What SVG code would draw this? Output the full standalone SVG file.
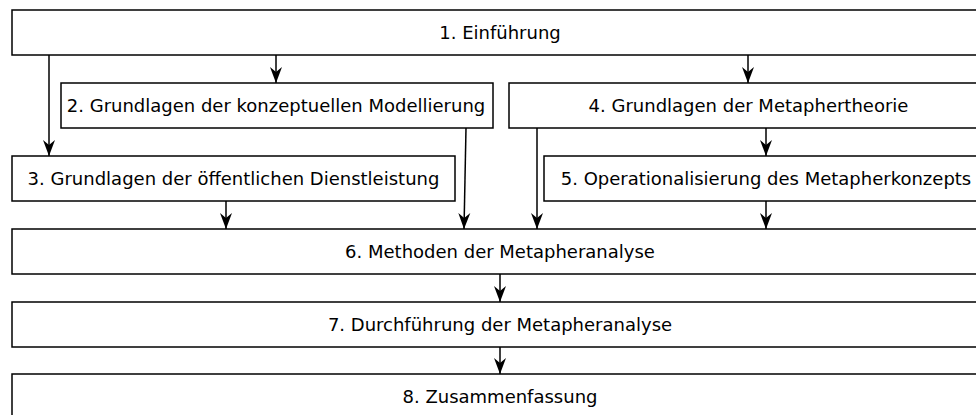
<svg xmlns="http://www.w3.org/2000/svg" width="976" height="415" viewBox="0 0 976 415">
<style>
.box{fill:#fff;stroke:#000;stroke-width:1.5}
.lbl{font-family:"DejaVu Sans",sans-serif;font-size:18px;fill:#000;text-anchor:middle}
.edge{stroke:#000;stroke-width:1.5;fill:none;marker-end:url(#ah)}
</style>
<defs>
<marker id="ah" markerUnits="userSpaceOnUse" markerWidth="18" markerHeight="14" viewBox="-17 -7 18 14" refX="0" refY="0" orient="auto">
<path d="M0,0 L-16,-6 L-11,0 L-16,6 Z" fill="#000"/>
</marker>
</defs>
<rect width="976" height="415" fill="#fff"/>
<g id="n1"><rect class="box" x="12" y="10" width="976" height="45"/><text class="lbl" x="500" y="39">1. Einführung</text></g>
<g id="n2"><rect class="box" x="61" y="83" width="432" height="45"/><text class="lbl" x="276" y="112">2. Grundlagen der konzeptuellen Modellierung</text></g>
<g id="n3"><rect class="box" x="12" y="156" width="443" height="45"/><text class="lbl" x="233.5" y="185">3. Grundlagen der öffentlichen Dienstleistung</text></g>
<g id="n4"><rect class="box" x="509" y="83" width="479" height="45"/><text class="lbl" x="748.5" y="112">4. Grundlagen der Metaphertheorie</text></g>
<g id="n5"><rect class="box" x="544" y="156" width="444" height="45"/><text class="lbl" x="766" y="185">5. Operationalisierung des Metapherkonzepts</text></g>
<g id="n6"><rect class="box" x="12" y="229" width="976" height="45"/><text class="lbl" x="500" y="258">6. Methoden der Metapheranalyse</text></g>
<g id="n7"><rect class="box" x="12" y="302" width="976" height="45"/><text class="lbl" x="500" y="331">7. Durchführung der Metapheranalyse</text></g>
<g id="n8"><rect class="box" x="12" y="374" width="976" height="45"/><text class="lbl" x="500" y="403">8. Zusammenfassung</text></g>
<g id="edges">
<path class="edge" d="M49,55 L49,156"/>
<path class="edge" d="M276,55 L276,83"/>
<path class="edge" d="M748,55 L748,83"/>
<path class="edge" d="M466,128 L464,229"/>
<path class="edge" d="M226,201 L226,229"/>
<path class="edge" d="M537,128 L537,229"/>
<path class="edge" d="M766,128 L766,156"/>
<path class="edge" d="M766,201 L766,229"/>
<path class="edge" d="M500,274 L500,302"/>
<path class="edge" d="M500,347 L500,374"/>
</g>
</svg>
